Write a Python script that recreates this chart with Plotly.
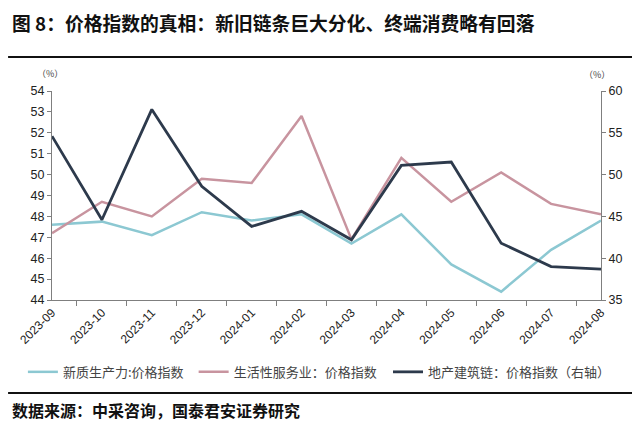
import plotly.graph_objects as go

months = ["2023-09", "2023-10", "2023-11", "2023-12", "2024-01", "2024-02",
          "2024-03", "2024-04", "2024-05", "2024-06", "2024-07", "2024-08"]

# 左轴
new_prod = [47.6, 47.75, 47.1, 48.2, 47.8, 48.1, 46.7, 48.1, 45.7, 44.4, 46.4, 47.8]
life_service = [47.2, 48.7, 48.0, 49.8, 49.6, 52.8, 46.9, 50.8, 48.7, 50.1, 48.6, 48.1]
# 右轴
property_chain = [54.6, 44.6, 57.8, 48.6, 43.8, 45.6, 42.2, 51.1, 51.5, 41.8, 39.0, 38.7]

CJK = "Noto Sans CJK SC"
AX = "#7f7f7f"

fig = go.Figure()
fig.add_trace(go.Scatter(x=months, y=new_prod, mode="lines", name="新质生产力:价格指数",
                         line=dict(color="#8cc8d2", width=2.5), legend="legend"))
fig.add_trace(go.Scatter(x=months, y=life_service, mode="lines", name="生活性服务业：价格指数",
                         line=dict(color="#c8949f", width=2.5), legend="legend2"))
fig.add_trace(go.Scatter(x=months, y=property_chain, mode="lines", name="地产建筑链：价格指数（右轴）",
                         line=dict(color="#2d3a4c", width=2.8), yaxis="y2", legend="legend3"))

legend_font = dict(family=CJK, size=13, color="#444")
def one_legend(x):
    # 每个图例单独摆放，避免自动换行
    return dict(orientation="h", x=x, xanchor="left", y=-0.344, yanchor="middle",
                font=legend_font, itemwidth=30, bgcolor="rgba(0,0,0,0)")

# 页面默认有 8px 边距，所以画布比窗口小 8px
fig.update_layout(
    width=632, height=417,
    margin=dict(l=44, r=39, t=83, b=125),
    plot_bgcolor="white", paper_bgcolor="white",
    font=dict(family="Liberation Sans, Arial", size=12, color="#222"),
    xaxis=dict(type="category", tickangle=-45, showline=True, linecolor=AX, linewidth=1,
               ticks="outside", tickson="boundaries", ticklen=5, tickcolor=AX,
               showgrid=False, tickfont=dict(size=12), automargin=False),
    yaxis=dict(range=[44, 54], dtick=1, showline=True, linecolor=AX, linewidth=1,
               ticks="outside", ticklen=4, tickcolor=AX, showgrid=False, zeroline=False,
               tickfont=dict(size=12.5), automargin=False),
    yaxis2=dict(range=[35, 60], dtick=5, overlaying="y", side="right", showline=True,
                linecolor=AX, linewidth=1, ticks="outside", ticklen=4, tickcolor=AX,
                showgrid=False, zeroline=False, tickfont=dict(size=12.5), automargin=False),
    showlegend=True,
    legend=one_legend(-0.053),
    legend2=one_legend(0.258),
    legend3=one_legend(0.612),
)

# 标题、单位和来源
fig.add_annotation(text="<b>图 8：价格指数的真相：新旧链条巨大分化、终端消费略有回落</b>",
                   xref="paper", yref="paper", x=-0.076, y=1.33, xanchor="left", yanchor="middle",
                   showarrow=False, font=dict(family=CJK, size=18.8, color="#111"))
fig.add_annotation(text="<b>数据来源：中采咨询，国泰君安证券研究</b>",
                   xref="paper", yref="paper", x=-0.076, y=-0.526, xanchor="left", yanchor="middle",
                   showarrow=False, font=dict(family=CJK, size=16, color="#111"))
fig.add_annotation(text="（%）", xref="paper", yref="paper", x=-0.004, y=1.086,
                   xanchor="center", yanchor="middle", showarrow=False,
                   font=dict(family=CJK, size=9, color="#444"))
fig.add_annotation(text="（%）", xref="paper", yref="paper", x=0.993, y=1.077,
                   xanchor="center", yanchor="middle", showarrow=False,
                   font=dict(family=CJK, size=9, color="#444"))

# 上下分隔线
for yy in (1.163, -0.445):
    fig.add_shape(type="line", xref="paper", yref="paper", x0=-0.080, x1=1.066,
                  y0=yy, y1=yy, line=dict(color="#111", width=2))

fig.write_html("out.html")
